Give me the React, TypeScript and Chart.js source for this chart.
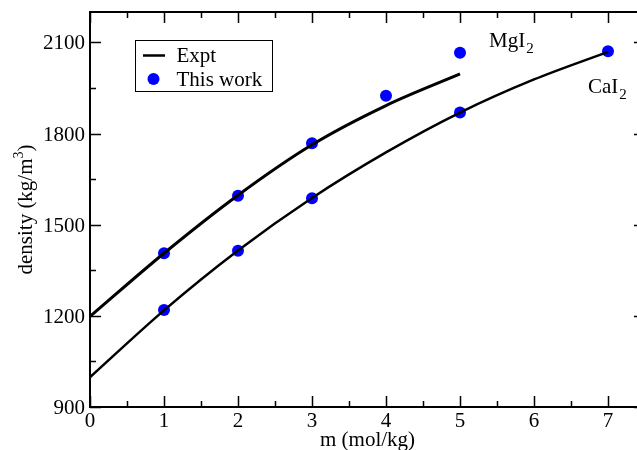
import React, { useEffect, useRef } from "react";
import { Chart, registerables } from "chart.js";

Chart.register(...registerables);

// ---- data ----
const exptMgX = [0, 1, 2, 3, 4, 5];
const exptMgY = [1198, 1406, 1597, 1763, 1892, 1996];
const exptCaX = [0, 1, 2, 3, 4, 5, 6, 7];
const exptCaY = [998, 1218, 1415, 1588, 1738, 1869, 1978, 2069];
const workMgX = [1, 2, 3, 4, 5];
const workMgY = [1406, 1595, 1768, 1924, 2066];
const workCaX = [1, 2, 3, 5, 7];
const workCaY = [1219, 1414, 1587, 1869, 2071];

const xMajorTicks = [0, 1, 2, 3, 4, 5, 6, 7];
const xMinorTicks = [0.5, 1.5, 2.5, 3.5, 4.5, 5.5, 6.5];
const yMajorTicks = [900, 1200, 1500, 1800, 2100];
const yMinorTicks = [1050, 1350, 1650, 1950];

const legendLabels = ["Expt", "This work"];
const xTitle = "m (mol/kg)";
const yTitleMain = "density (kg/m";
const yTitleSup = "3";
const yTitleEnd = ")";

const FONT = '"Liberation Serif", "Times New Roman", serif';
const BLUE = "#0000ff";

const toPts = (xs: number[], ys: number[]) => xs.map((x, i) => ({ x, y: ys[i] }));

const decorPlugin = {
  id: "decor",
  afterDraw(chart: any) {
    const ctx = chart.ctx as CanvasRenderingContext2D;
    const a = chart.chartArea;
    const xs = chart.scales.x;
    const ys = chart.scales.y;
    ctx.save();
    // frame
    ctx.strokeStyle = "#000";
    ctx.lineWidth = 2;
    ctx.strokeRect(a.left, a.top, a.right - a.left, a.bottom - a.top);
    // ticks
    ctx.lineWidth = 1.5;
    ctx.beginPath();
    const xt = (v: number, len: number) => {
      const p = Math.round(xs.getPixelForValue(v)) + 0.5;
      ctx.moveTo(p, a.bottom);
      ctx.lineTo(p, a.bottom - len);
      ctx.moveTo(p, a.top);
      ctx.lineTo(p, a.top + len);
    };
    const yt = (v: number, len: number) => {
      const p = Math.round(ys.getPixelForValue(v)) + 0.5;
      ctx.moveTo(a.left, p);
      ctx.lineTo(a.left + len, p);
      ctx.moveTo(a.right, p);
      ctx.lineTo(a.right - len, p);
    };
    xMajorTicks.forEach((v) => xt(v, 11));
    xMinorTicks.forEach((v) => xt(v, 6));
    yMajorTicks.forEach((v) => yt(v, 11));
    yMinorTicks.forEach((v) => yt(v, 6));
    ctx.stroke();

    // tick labels
    ctx.fillStyle = "#000";
    ctx.font = `21px ${FONT}`;
    ctx.textBaseline = "alphabetic";
    ctx.textAlign = "center";
    xMajorTicks.forEach((v) => {
      ctx.fillText(String(v), xs.getPixelForValue(v), 427);
    });
    ctx.textAlign = "right";
    yMajorTicks.forEach((v) => {
      ctx.fillText(String(v), 85, ys.getPixelForValue(v) + 7);
    });

    // legend
    ctx.lineWidth = 1;
    ctx.strokeStyle = "#000";
    ctx.strokeRect(135.5, 40.5, 137, 51);
    ctx.lineWidth = 2.5;
    ctx.beginPath();
    ctx.moveTo(143, 55.5);
    ctx.lineTo(165, 55.5);
    ctx.stroke();
    ctx.fillStyle = BLUE;
    ctx.beginPath();
    ctx.arc(153.5, 79, 6, 0, Math.PI * 2);
    ctx.fill();
    ctx.fillStyle = "#000";
    ctx.font = `21px ${FONT}`;
    ctx.textAlign = "left";
    ctx.fillText(legendLabels[0], 176.5, 61.5);
    ctx.fillText(legendLabels[1], 176.5, 86);

    // annotations
    const chem = (base: string, sub: string, x: number, y: number) => {
      ctx.font = `21px ${FONT}`;
      ctx.fillText(base, x, y);
      const w = ctx.measureText(base).width;
      ctx.font = `15px ${FONT}`;
      ctx.fillText(sub, x + w + 1, y + 6);
    };
    chem("MgI", "2", 489, 47);
    chem("CaI", "2", 588, 93);

    // x title
    ctx.font = `21px ${FONT}`;
    ctx.textAlign = "center";
    ctx.fillText(xTitle, (a.left + a.right) / 2, 446);

    // y title rotated
    ctx.save();
    ctx.translate(32, (a.top + a.bottom) / 2);
    ctx.rotate(-Math.PI / 2);
    ctx.textAlign = "left";
    ctx.font = `21px ${FONT}`;
    const w1 = ctx.measureText(yTitleMain).width;
    ctx.font = `14px ${FONT}`;
    const w2 = ctx.measureText(yTitleSup).width;
    ctx.font = `21px ${FONT}`;
    const w3 = ctx.measureText(yTitleEnd).width;
    const total = w1 + w2 + w3;
    const x0 = -total / 2;
    ctx.fillText(yTitleMain, x0, 0);
    ctx.font = `14px ${FONT}`;
    ctx.fillText(yTitleSup, x0 + w1, -9);
    ctx.font = `21px ${FONT}`;
    ctx.fillText(yTitleEnd, x0 + w1 + w2, 0);
    ctx.restore();

    ctx.restore();
  },
};

export default function App() {
  const ref = useRef<HTMLCanvasElement>(null);
  useEffect(() => {
    if (!ref.current) return;
    const chart = new Chart(ref.current, {
      type: "scatter",
      data: {
        datasets: [
          {
            label: "Expt MgI2",
            data: toPts(exptMgX, exptMgY),
            showLine: true,
            borderColor: "#000",
            borderWidth: 3,
            pointRadius: 0,
            cubicInterpolationMode: "monotone",
          },
          {
            label: "Expt CaI2",
            data: toPts(exptCaX, exptCaY),
            showLine: true,
            borderColor: "#000",
            borderWidth: 2.5,
            pointRadius: 0,
            cubicInterpolationMode: "monotone",
          },
          {
            label: "This work MgI2",
            data: toPts(workMgX, workMgY),
            showLine: false,
            pointRadius: 6,
            pointBackgroundColor: BLUE,
            pointBorderColor: BLUE,
            pointBorderWidth: 0,
          },
          {
            label: "This work CaI2",
            data: toPts(workCaX, workCaY),
            showLine: false,
            pointRadius: 6,
            pointBackgroundColor: BLUE,
            pointBorderColor: BLUE,
            pointBorderWidth: 0,
          },
        ] as any,
      },
      options: {
        responsive: false,
        animation: false,
        devicePixelRatio: 1,
        layout: { autoPadding: false, padding: { top: 12, left: 0, right: 0, bottom: 0 } },
        plugins: { legend: { display: false }, tooltip: { enabled: false } },
        scales: {
          x: {
            type: "linear",
            min: 0,
            max: 7.5,
            grid: { display: false, drawTicks: false },
            border: { display: false },
            afterFit: (s: any) => {
              s.height = 43;
            },
            ticks: { display: false },
          },
          y: {
            type: "linear",
            min: 900,
            max: 2200,
            grid: { display: false, drawTicks: false },
            border: { display: false },
            afterFit: (s: any) => {
              s.width = 90;
            },
            ticks: { display: false },
          },
        },
      } as any,
      plugins: [decorPlugin],
    });
    return () => chart.destroy();
  }, []);
  return (
    <div
      style={{
        position: "fixed",
        left: 0,
        top: 0,
        width: 637,
        height: 450,
        overflow: "hidden",
        background: "#fff",
      }}
    >
      <canvas ref={ref} width={645} height={450} style={{ display: "block", width: 645, height: 450 }} />
    </div>
  );
}
